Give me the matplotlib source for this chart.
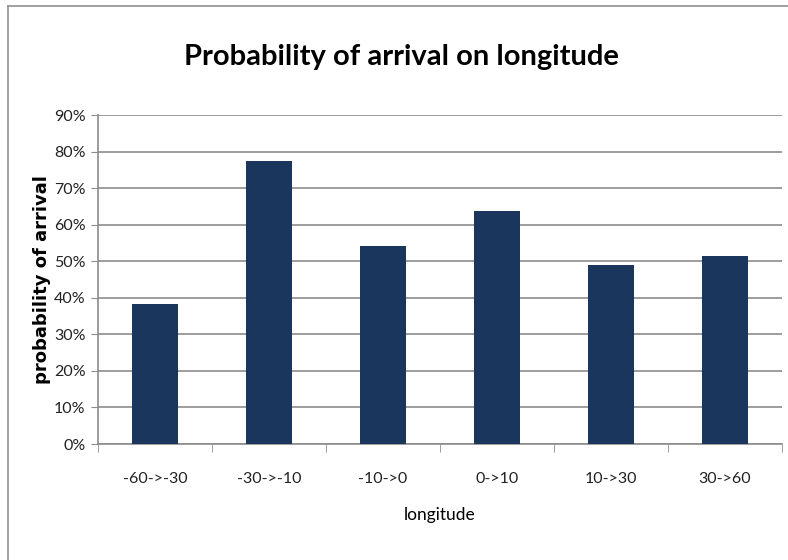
import matplotlib.pyplot as plt
from matplotlib.lines import Line2D
from matplotlib.ticker import PercentFormatter

# Arrival probability per longitude band
bands = ['-60->-30', '-30->-10', '-10->0', '0->10', '10->30', '30->60']
prob = [38.3, 77.5, 54.2, 63.7, 49.0, 51.5]

bar_color = '#1b365d'
grid_color = '#8c8c8c'

fig = plt.figure(figsize=(7.88, 5.6), dpi=100)
ax = fig.add_axes([0.1244, 0.2071, 0.868, 0.5875])

x = range(len(bands))
ax.bar(x, prob, width=0.4, color=bar_color, zorder=3)

ax.set_xlim(-0.5, len(bands) - 0.5)
ax.set_ylim(0, 90)
ax.set_yticks(range(0, 91, 10))
ax.yaxis.set_major_formatter(PercentFormatter(decimals=0))
ax.grid(axis='y', color=grid_color, linewidth=1.2, zorder=0)

# category labels in the middle, tick marks on the boundaries
ax.set_xticks(list(x))
ax.set_xticklabels(bands)
ax.set_xticks([i - 0.5 for i in range(len(bands) + 1)], minor=True)
ax.tick_params(axis='x', which='major', length=0, pad=20,
               labelsize=11.5, labelcolor='#222222')
ax.tick_params(axis='x', which='minor', length=6, color=grid_color)
ax.tick_params(axis='y', length=5, color=grid_color, labelsize=11.5,
               labelcolor='#222222', pad=4)
for lab in ax.get_xticklabels() + ax.get_yticklabels():
    lab.set_family('Lato')

for side in ('top', 'right'):
    ax.spines[side].set_visible(False)
for side in ('left', 'bottom'):
    ax.spines[side].set_color(grid_color)
    ax.spines[side].set_linewidth(1.2)

ax.set_xlabel('longitude', family='Lato', fontsize=12.5, labelpad=15)
ax.set_ylabel('probability of arrival', family='DejaVu Sans',
              fontweight='heavy', fontsize=13, labelpad=2)
fig.text(0.51, 0.898, 'Probability of arrival on longitude', ha='center',
         va='center', family='Lato', fontweight='bold', fontsize=21)

# chart frame (top and left edges)
fig.add_artist(Line2D([0.0102, 1.0], [0.989, 0.989], color='#909090', lw=1.2))
fig.add_artist(Line2D([0.0102, 0.0102], [0.0, 0.989], color='#909090', lw=1.2))

fig.savefig('out.png', dpi=100)
